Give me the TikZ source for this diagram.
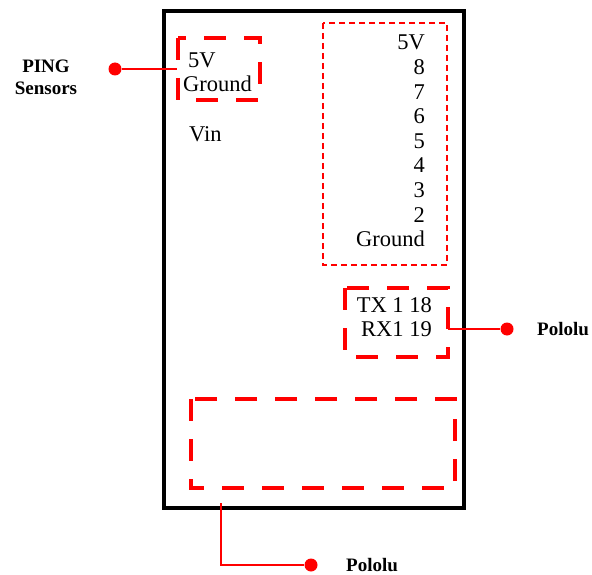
\documentclass[tikz,border=0pt]{standalone}
\usepackage{fontspec}
\setmainfont{Liberation Serif}
\begin{document}
\begin{tikzpicture}[x=1pt,y=-1pt,
  thickdash/.style={draw=red, line width=4pt, dash pattern=on 22pt off 18pt},
  thindash/.style={draw=red, line width=1.3pt, dash pattern=on 6pt off 4pt},
  wire/.style={draw=red, line width=1.3pt},
  dot/.style={circle, fill=red, inner sep=0pt, minimum size=13pt},
  pin/.style={inner sep=0pt, font=\fontsize{22.5}{24.6}\selectfont},
  lab/.style={inner sep=0pt, font=\fontsize{19}{21.5}\selectfont\bfseries}]
\useasboundingbox (0,0) rectangle (592,575);
% board
\draw[line width=4.5pt] (164,11) rectangle (464,508);
% boxes
\draw[thickdash] (178,38) rectangle (260,100);
\draw[thindash] (323,23) rectangle (447,265);
\draw[thickdash] (345,288) rectangle (448,357);
\draw[thickdash] (191,399) rectangle (455,488);
\coordinate (pingbox) at (177,69);
\coordinate (txbox) at (448,329);
\coordinate (botbox) at (221,503);
% left pins
\node[pin, anchor=base west] (l5v) at (188,68) {5V};
\node[pin, anchor=base west] (lgnd) at (183,92) {Ground};
\node[pin, anchor=base west] (vin) at (189,142) {Vin};
% right column
\node[pin, anchor=north east, align=right] (rcol) at (425,35)
  {5V\\8\\7\\6\\5\\4\\3\\2\\Ground};
\node[pin, anchor=north east, align=right] (txrx) at (432,297)
  {TX 1 18\\RX1 19};
% labels and connectors
\node[lab, align=center, anchor=north] (ping) at (46,60) {PING\\Sensors};
\node[dot] (d1) at (115,69) {};
\draw[wire] (d1) -- (pingbox);
\node[dot] (d2) at (507,329) {};
\draw[wire] (txbox) -- (d2);
\node[lab, anchor=base west] (pol1) at (537,335) {Pololu};
\node[dot] (d3) at (311,565) {};
\draw[wire] (botbox) |- (d3);
\node[lab, anchor=base west] (pol2) at (346,571) {Pololu};
\end{tikzpicture}
\end{document}
